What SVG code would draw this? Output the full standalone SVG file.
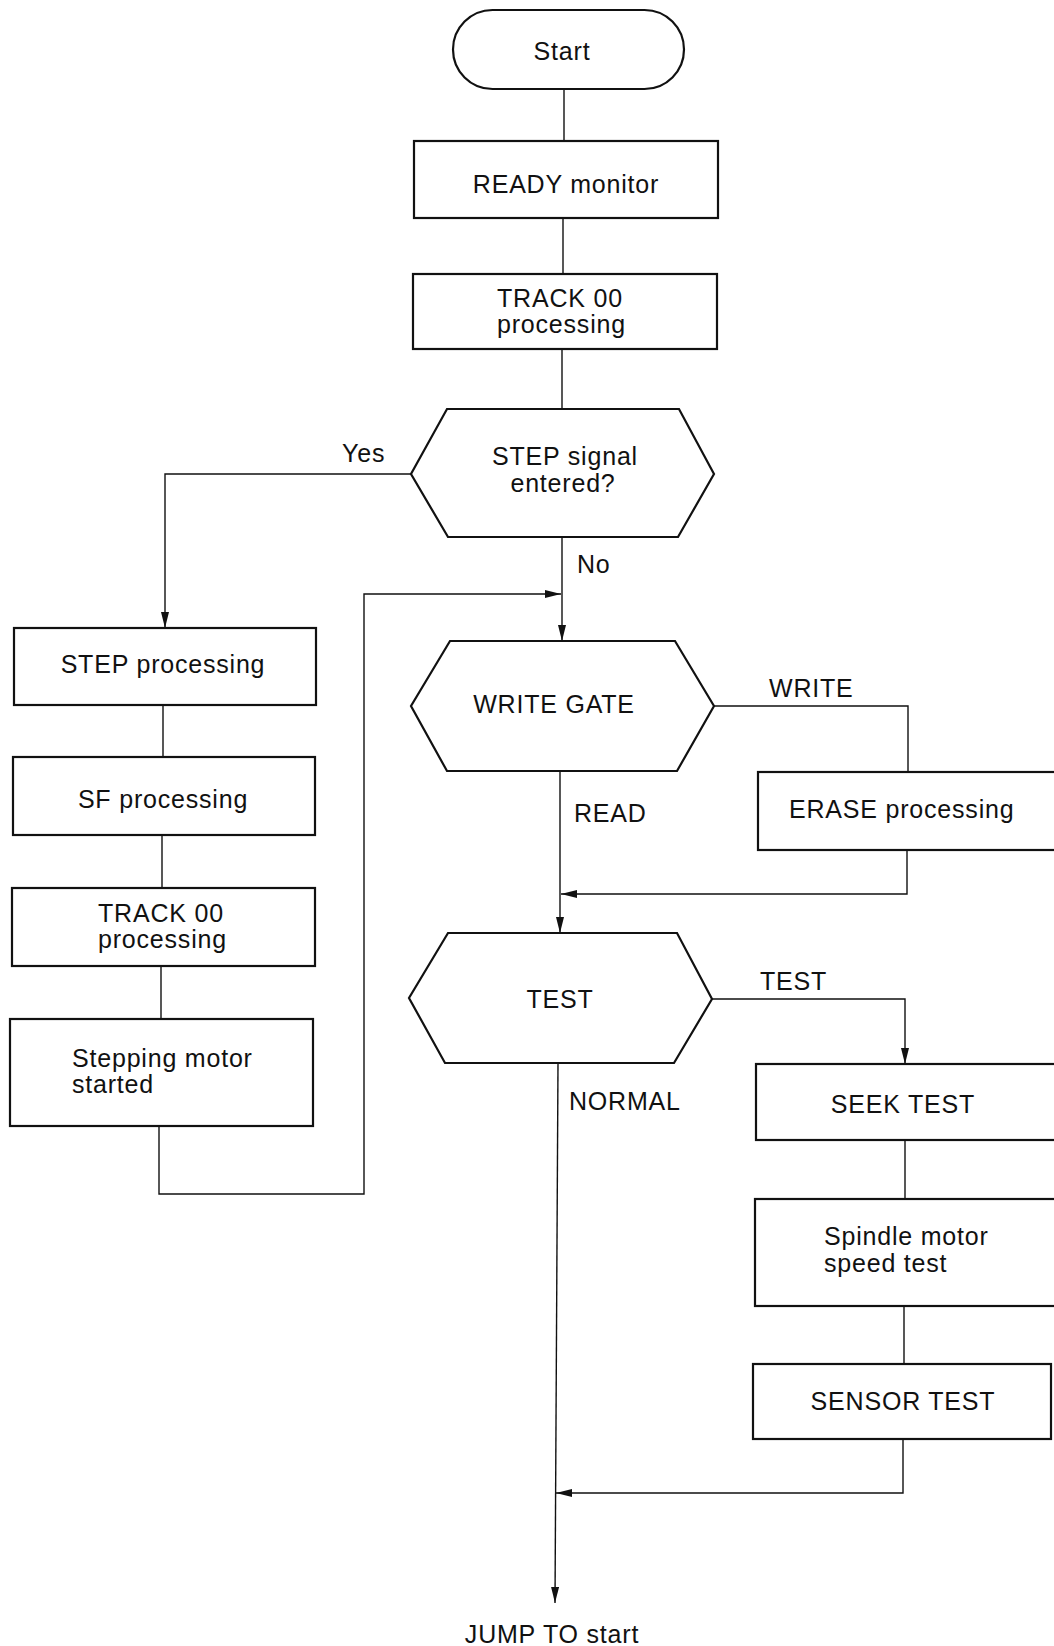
<svg xmlns="http://www.w3.org/2000/svg" width="1054" height="1646" viewBox="0 0 1054 1646">
<style>
.box{fill:#fff;stroke:#111;stroke-width:2.2}
.c{fill:none;stroke:#111;stroke-width:1.4}
.t{font-family:"Liberation Sans",Arial,sans-serif;font-size:25px;fill:#111;letter-spacing:0.8px}
.m{text-anchor:middle}
</style>
<defs>
<marker id="ar" viewBox="0 0 16 8" refX="16" refY="4" markerWidth="16" markerHeight="8" markerUnits="userSpaceOnUse" orient="auto">
<path d="M0,0 L16,4 L0,8 z" fill="#111"/>
</marker>
</defs>
<rect width="1054" height="1646" fill="#fff"/>
<g id="connectors">
<path class="c" d="M564,89 V141"/>
<path class="c" d="M563,218 V274"/>
<path class="c" d="M562,349 V409"/>
<path class="c" d="M411,474 H165 V628" marker-end="url(#ar)"/>
<path class="c" d="M562,537 V641" marker-end="url(#ar)"/>
<path class="c" d="M163,705 V757"/>
<path class="c" d="M162,835 V888"/>
<path class="c" d="M161,966 V1019"/>
<path class="c" d="M159,1126 V1194 H364 V594 H561" marker-end="url(#ar)"/>
<path class="c" d="M714,706 H908 V772"/>
<path class="c" d="M907,850 V894 H561" marker-end="url(#ar)"/>
<path class="c" d="M560,771 V933" marker-end="url(#ar)"/>
<path class="c" d="M712,999 H905 V1064" marker-end="url(#ar)"/>
<path class="c" d="M905,1140 V1199"/>
<path class="c" d="M904,1306 V1364"/>
<path class="c" d="M903,1439 V1493 H556" marker-end="url(#ar)"/>
<path class="c" d="M558,1063 L555,1603" marker-end="url(#ar)"/>
</g>
<g id="start">
<rect class="box" x="453" y="10" width="231" height="79" rx="39.5"/>
<text class="t m" x="562" y="60">Start</text>
</g>
<g id="ready">
<rect class="box" x="414" y="141" width="304" height="77"/>
<text class="t m" x="566" y="193">READY monitor</text>
</g>
<g id="track00a">
<rect class="box" x="413" y="274" width="304" height="75"/>
<text class="t" x="497" y="307">TRACK 00</text>
<text class="t" x="497" y="333">processing</text>
</g>
<g id="stepsignal">
<polygon class="box" points="447,409 679,409 714,474 678,537 448,537 411,474"/>
<text class="t m" x="565" y="465">STEP signal</text>
<text class="t m" x="563" y="492">entered?</text>
</g>
<g id="stepproc">
<rect class="box" x="14" y="628" width="302" height="77"/>
<text class="t m" x="163" y="673">STEP processing</text>
</g>
<g id="sfproc">
<rect class="box" x="13" y="757" width="302" height="78"/>
<text class="t m" x="163" y="808">SF processing</text>
</g>
<g id="track00b">
<rect class="box" x="12" y="888" width="303" height="78"/>
<text class="t" x="98" y="922">TRACK 00</text>
<text class="t" x="98" y="948">processing</text>
</g>
<g id="stepping">
<rect class="box" x="10" y="1019" width="303" height="107"/>
<text class="t" x="72" y="1067">Stepping motor</text>
<text class="t" x="72" y="1093">started</text>
</g>
<g id="writegate">
<polygon class="box" points="450,641 675,641 714,706 677,771 447,771 411,706"/>
<text class="t m" x="554" y="713">WRITE GATE</text>
</g>
<g id="erase">
<rect class="box" x="758" y="772" width="310" height="78"/>
<text class="t" x="789" y="818">ERASE processing</text>
</g>
<g id="test">
<polygon class="box" points="448,933 677,933 712,999 674,1063 445,1063 409,998"/>
<text class="t m" x="560" y="1008">TEST</text>
</g>
<g id="seek">
<rect class="box" x="756" y="1064" width="312" height="76"/>
<text class="t m" x="903" y="1113">SEEK TEST</text>
</g>
<g id="spindle">
<rect class="box" x="755" y="1199" width="313" height="107"/>
<text class="t" x="824" y="1245">Spindle motor</text>
<text class="t" x="824" y="1272">speed test</text>
</g>
<g id="sensor">
<rect class="box" x="753" y="1364" width="298" height="75"/>
<text class="t m" x="903" y="1410">SENSOR TEST</text>
</g>
<g id="labels">
<text class="t" x="342" y="462">Yes</text>
<text class="t" x="577" y="573">No</text>
<text class="t" x="769" y="697">WRITE</text>
<text class="t" x="574" y="822">READ</text>
<text class="t" x="760" y="990">TEST</text>
<text class="t" x="569" y="1110">NORMAL</text>
<text class="t m" x="552" y="1643">JUMP TO start</text>
</g>
</svg>
